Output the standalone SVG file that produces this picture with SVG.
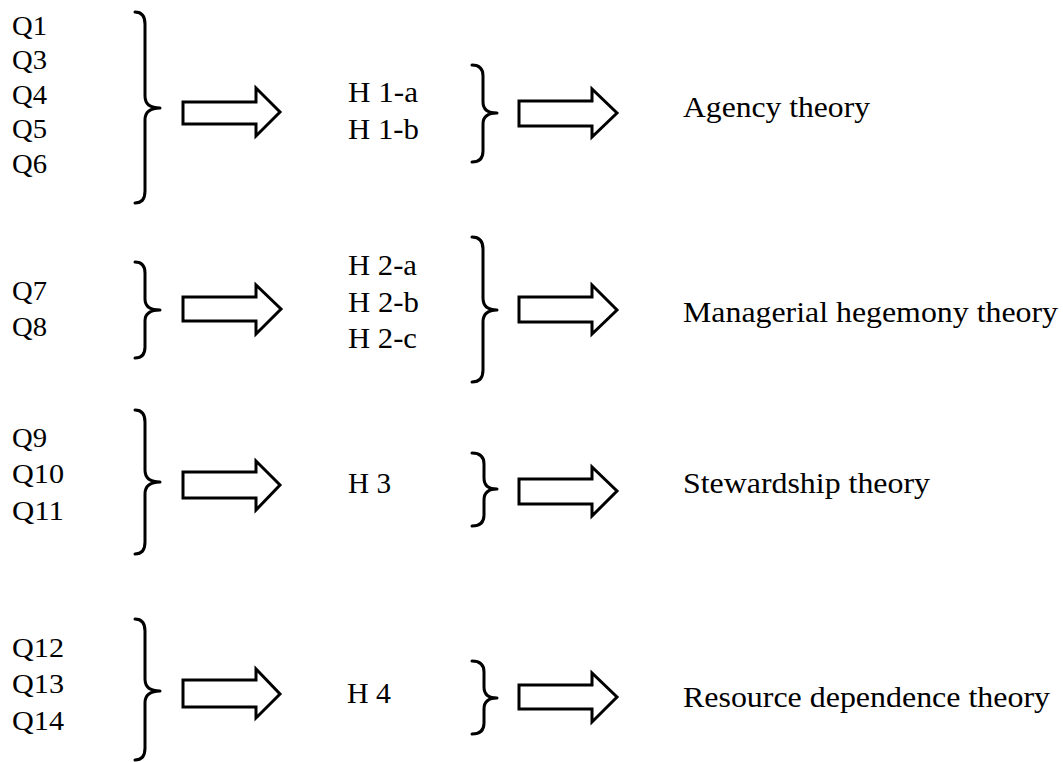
<svg xmlns="http://www.w3.org/2000/svg" width="1063" height="762" viewBox="0 0 1063 762">
<style>
text{font-family:"Liberation Serif","Times New Roman",Times,serif;fill:#000}
.q{font-size:27px}
.h{font-size:29px}
.t{font-size:30px}
.br{fill:none;stroke:#000;stroke-width:3;stroke-linecap:round;stroke-linejoin:round}
.ar{fill:#fff;stroke:#000;stroke-width:3;stroke-linejoin:miter}
</style>
<rect width="1063" height="762" fill="#fff"/>
<g id="row1">
<g id="q-group-1" font-family="Liberation Serif">
<text class="q" x="12" y="35" textLength="35" lengthAdjust="spacingAndGlyphs">Q1</text>
<text class="q" x="12" y="69" textLength="35" lengthAdjust="spacingAndGlyphs">Q3</text>
<text class="q" x="12" y="104" textLength="35" lengthAdjust="spacingAndGlyphs">Q4</text>
<text class="q" x="12" y="138" textLength="35" lengthAdjust="spacingAndGlyphs">Q5</text>
<text class="q" x="12" y="173" textLength="35" lengthAdjust="spacingAndGlyphs">Q6</text>
</g>
<g id="h-group-1">
<text class="h" x="348" y="102" textLength="70" lengthAdjust="spacingAndGlyphs">H 1-a</text>
<text class="h" x="348" y="139" textLength="71" lengthAdjust="spacingAndGlyphs">H 1-b</text>
</g>
<g id="theory-1"><text class="t" x="683" y="117" textLength="187" lengthAdjust="spacingAndGlyphs">Agency theory</text></g>
</g>
<g id="row2">
<g id="q-group-2">
<text class="q" x="12" y="300" textLength="35" lengthAdjust="spacingAndGlyphs">Q7</text>
<text class="q" x="12" y="336" textLength="35" lengthAdjust="spacingAndGlyphs">Q8</text>
</g>
<g id="h-group-2">
<text class="h" x="348" y="275" textLength="69" lengthAdjust="spacingAndGlyphs">H 2-a</text>
<text class="h" x="348" y="312" textLength="71" lengthAdjust="spacingAndGlyphs">H 2-b</text>
<text class="h" x="348" y="348" textLength="69" lengthAdjust="spacingAndGlyphs">H 2-c</text>
</g>
<g id="theory-2"><text class="t" x="683" y="322" textLength="375" lengthAdjust="spacingAndGlyphs">Managerial hegemony theory</text></g>
</g>
<g id="row3">
<g id="q-group-3">
<text class="q" x="12" y="447" textLength="35" lengthAdjust="spacingAndGlyphs">Q9</text>
<text class="q" x="12" y="483" textLength="52" lengthAdjust="spacingAndGlyphs">Q10</text>
<text class="q" x="12" y="520" textLength="52" lengthAdjust="spacingAndGlyphs">Q11</text>
</g>
<g id="h-group-3"><text class="h" x="348" y="493" textLength="43" lengthAdjust="spacingAndGlyphs">H 3</text></g>
<g id="theory-3"><text class="t" x="683" y="493" textLength="247" lengthAdjust="spacingAndGlyphs">Stewardship theory</text></g>
</g>
<g id="row4">
<g id="q-group-4">
<text class="q" x="12" y="657" textLength="52" lengthAdjust="spacingAndGlyphs">Q12</text>
<text class="q" x="12" y="693" textLength="52" lengthAdjust="spacingAndGlyphs">Q13</text>
<text class="q" x="12" y="730" textLength="52" lengthAdjust="spacingAndGlyphs">Q14</text>
</g>
<g id="h-group-4"><text class="h" x="347" y="703" textLength="44" lengthAdjust="spacingAndGlyphs">H 4</text></g>
<g id="theory-4"><text class="t" x="683" y="707" textLength="367" lengthAdjust="spacingAndGlyphs">Resource dependence theory</text></g>
</g>
<g id="connectors">
<path class="br" d="M135 12 Q145 12 145 24 V96 Q145 108 160 108 Q145 108 145 120 V191 Q145 203 135 203"/>
<polygon class="ar" points="183,102 256,102 256,88 280,112 256,136 256,124 183,124"/>
<path class="br" d="M472 65 Q483 65 483 76 V102 Q483 113 497 113 Q483 113 483 124 V151 Q483 162 472 162"/>
<polygon class="ar" points="519,101 592,101 592,89 617,113 592,137 592,126 519,126"/>

<path class="br" d="M135 262 Q145 262 145 273 V299 Q145 310 160 310 Q145 310 145 321 V347 Q145 358 135 358"/>
<polygon class="ar" points="183,297 256,297 256,285 281,309 256,334 256,321 183,321"/>
<path class="br" d="M472 237 Q483 237 483 249 V298 Q483 310 497 310 Q483 310 483 322 V370 Q483 382 472 382"/>
<polygon class="ar" points="519,297 592,297 592,285 617,310 592,334 592,322 519,322"/>

<path class="br" d="M135 410 Q145 410 145 422 V470 Q145 482 160 482 Q145 482 145 494 V542 Q145 554 135 554"/>
<polygon class="ar" points="183,472 256,472 256,461 280,485 256,510 256,498 183,498"/>
<path class="br" d="M472 453 Q484 453 484 464 V478 Q484 489 497 489 Q484 489 484 500 V515 Q484 526 472 526"/>
<polygon class="ar" points="519,479 592,479 592,467 617,491 592,516 592,504 519,504"/>

<path class="br" d="M135 619 Q145 619 145 631 V679 Q145 691 160 691 Q145 691 145 703 V748 Q145 760 135 760"/>
<polygon class="ar" points="183,680 256,680 256,669 280,694 256,718 256,707 183,707"/>
<path class="br" d="M472 661 Q484 661 484 672 V687 Q484 698 497 698 Q484 698 484 709 V723 Q484 734 472 734"/>
<polygon class="ar" points="519,685 592,685 592,673 617,697 592,722 592,709 519,709"/>
</g>
</svg>
